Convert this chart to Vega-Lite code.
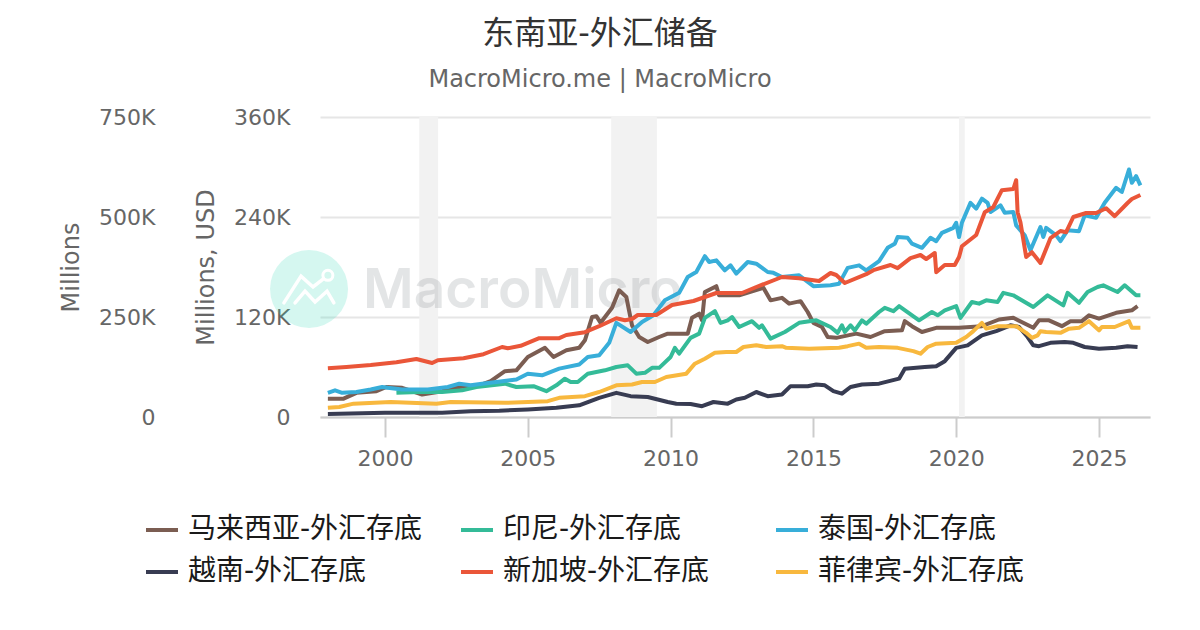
{
  "$schema": "https://vega.github.io/schema/vega-lite/v6.json",
  "autosize": {"type": "none"},
  "padding": {"left": 320, "top": 117, "right": 50, "bottom": 213},
  "width": 830,
  "height": 300,
  "background": "white",
  "title": {
    "text": "东南亚-外汇储备",
    "subtitle": "MacroMicro.me | MacroMicro",
    "anchor": "middle",
    "dx": -135,
    "offset": 13,
    "fontSize": 32,
    "fontWeight": "normal",
    "color": "#333333",
    "subtitleFontSize": 24,
    "subtitleColor": "#666666",
    "subtitlePadding": 17,
    "font": "DejaVu Sans, Noto Sans CJK SC",
    "subtitleFont": "DejaVu Sans"
  },
  "config": {
    "view": {"stroke": null},
    "font": "DejaVu Sans, Noto Sans CJK SC"
  },
  "datasets": {
    "bands": [
      {"from": 2001.2, "to": 2001.86},
      {"from": 2007.92, "to": 2009.52},
      {"from": 2020.1, "to": 2020.3}
    ],
    "logo": [{"t": 1997.34, "v": 153600}],
    "ring": [{"t": 1998.0, "v": 170000}],
    "markA": [
      {"t": 1996.46, "v": 137000},
      {"t": 1997.06, "v": 169000},
      {"t": 1997.48, "v": 156000},
      {"t": 1998.0, "v": 170000}
    ],
    "markB": [
      {"t": 1996.85, "v": 137000},
      {"t": 1997.2, "v": 151000},
      {"t": 1997.55, "v": 138000},
      {"t": 1997.97, "v": 151000},
      {"t": 1998.21, "v": 137000}
    ],
    "wordmark": [{"t": 1999.23, "v": 131000, "name": "MacroMicro"}],
    "my": [
      {"t":1998.0,"v":22000},{"t":1998.55,"v":22000},{"t":1999.0,"v":29000},{"t":1999.7,"v":31000},{"t":2000.05,"v":36000},{"t":2000.6,"v":35000},{"t":2001.3,"v":27000},{"t":2002.0,"v":31000},{"t":2002.6,"v":36000},{"t":2003.3,"v":38000},{"t":2003.7,"v":43000},{"t":2004.2,"v":55000},{"t":2004.6,"v":56000},{"t":2005.0,"v":72000},{"t":2005.6,"v":83000},{"t":2005.9,"v":72000},{"t":2006.35,"v":80000},{"t":2006.8,"v":83000},{"t":2007.0,"v":92000},{"t":2007.25,"v":120000},{"t":2007.4,"v":121000},{"t":2007.55,"v":113000},{"t":2007.95,"v":131000},{"t":2008.2,"v":152000},{"t":2008.45,"v":144000},{"t":2008.65,"v":110000},{"t":2008.9,"v":96000},{"t":2009.2,"v":90000},{"t":2009.6,"v":96000},{"t":2009.9,"v":100000},{"t":2010.6,"v":100000},{"t":2010.75,"v":119000},{"t":2011.0,"v":124000},{"t":2011.1,"v":116000},{"t":2011.2,"v":150000},{"t":2011.6,"v":157000},{"t":2011.7,"v":146000},{"t":2012.4,"v":146000},{"t":2013.25,"v":155000},{"t":2013.5,"v":140000},{"t":2013.9,"v":143000},{"t":2014.15,"v":136000},{"t":2014.55,"v":139000},{"t":2014.8,"v":126000},{"t":2015.0,"v":113000},{"t":2015.3,"v":108000},{"t":2015.5,"v":96000},{"t":2015.8,"v":95000},{"t":2016.5,"v":100000},{"t":2017.0,"v":96000},{"t":2017.5,"v":103000},{"t":2018.1,"v":104000},{"t":2018.2,"v":115000},{"t":2018.45,"v":109000},{"t":2018.8,"v":102000},{"t":2019.3,"v":107000},{"t":2020.1,"v":107000},{"t":2020.9,"v":109000},{"t":2021.5,"v":117000},{"t":2022.0,"v":119000},{"t":2022.7,"v":107000},{"t":2022.9,"v":116000},{"t":2023.25,"v":116000},{"t":2023.7,"v":109000},{"t":2024.0,"v":115000},{"t":2024.4,"v":115000},{"t":2024.65,"v":122000},{"t":2025.0,"v":118000},{"t":2025.6,"v":125000},{"t":2026.15,"v":128000},{"t":2026.35,"v":133000}
    ],
    "id": [
      {"t":2000.4,"v":29000},{"t":2001.2,"v":30000},{"t":2002.0,"v":30000},{"t":2002.7,"v":32000},{"t":2003.2,"v":36000},{"t":2004.2,"v":40000},{"t":2004.6,"v":36000},{"t":2005.2,"v":37000},{"t":2005.65,"v":31000},{"t":2006.0,"v":38000},{"t":2006.3,"v":46000},{"t":2006.5,"v":42000},{"t":2006.75,"v":42000},{"t":2007.1,"v":52000},{"t":2007.7,"v":56000},{"t":2008.1,"v":60000},{"t":2008.5,"v":62000},{"t":2008.8,"v":52000},{"t":2009.1,"v":53000},{"t":2009.35,"v":59000},{"t":2009.6,"v":59000},{"t":2010.0,"v":72000},{"t":2010.15,"v":83000},{"t":2010.3,"v":76000},{"t":2010.7,"v":95000},{"t":2011.0,"v":100000},{"t":2011.2,"v":119000},{"t":2011.55,"v":127000},{"t":2011.75,"v":113000},{"t":2012.0,"v":116000},{"t":2012.15,"v":120000},{"t":2012.4,"v":108000},{"t":2012.85,"v":115000},{"t":2013.1,"v":107000},{"t":2013.2,"v":110000},{"t":2013.5,"v":94000},{"t":2014.0,"v":102000},{"t":2014.5,"v":113000},{"t":2015.1,"v":116000},{"t":2015.6,"v":108000},{"t":2015.85,"v":101000},{"t":2016.0,"v":110000},{"t":2016.1,"v":102000},{"t":2016.3,"v":110000},{"t":2016.45,"v":104000},{"t":2016.7,"v":116000},{"t":2016.85,"v":112000},{"t":2017.3,"v":126000},{"t":2017.5,"v":131000},{"t":2017.8,"v":127000},{"t":2018.0,"v":133000},{"t":2018.7,"v":116000},{"t":2019.15,"v":126000},{"t":2019.35,"v":122000},{"t":2019.6,"v":128000},{"t":2020.0,"v":133000},{"t":2020.15,"v":119000},{"t":2020.55,"v":138000},{"t":2020.8,"v":136000},{"t":2021.05,"v":140000},{"t":2021.45,"v":138000},{"t":2021.65,"v":149000},{"t":2022.0,"v":146000},{"t":2022.7,"v":132000},{"t":2023.2,"v":146000},{"t":2023.75,"v":134000},{"t":2023.9,"v":149000},{"t":2024.3,"v":137000},{"t":2024.6,"v":150000},{"t":2024.95,"v":156000},{"t":2025.15,"v":158000},{"t":2025.65,"v":150000},{"t":2025.9,"v":158000},{"t":2026.3,"v":146000},{"t":2026.45,"v":146000}
    ],
    "th": [
      {"t":1998.0,"v":29000},{"t":1998.25,"v":32000},{"t":1998.5,"v":29000},{"t":1999.0,"v":30000},{"t":1999.5,"v":33000},{"t":1999.9,"v":36000},{"t":2000.1,"v":35000},{"t":2000.6,"v":33000},{"t":2001.5,"v":33000},{"t":2002.2,"v":36000},{"t":2002.6,"v":40000},{"t":2003.0,"v":38000},{"t":2003.4,"v":40000},{"t":2003.9,"v":42000},{"t":2004.6,"v":45000},{"t":2005.0,"v":52000},{"t":2005.5,"v":50000},{"t":2006.1,"v":58000},{"t":2006.8,"v":63000},{"t":2007.1,"v":72000},{"t":2007.5,"v":74000},{"t":2007.85,"v":89000},{"t":2008.1,"v":113000},{"t":2008.6,"v":102000},{"t":2009.0,"v":114000},{"t":2009.4,"v":122000},{"t":2009.8,"v":140000},{"t":2010.3,"v":149000},{"t":2010.6,"v":168000},{"t":2010.9,"v":174000},{"t":2011.2,"v":193000},{"t":2011.35,"v":186000},{"t":2011.6,"v":188000},{"t":2011.9,"v":176000},{"t":2012.1,"v":182000},{"t":2012.3,"v":172000},{"t":2012.7,"v":186000},{"t":2013.0,"v":184000},{"t":2013.4,"v":174000},{"t":2013.6,"v":173000},{"t":2013.9,"v":168000},{"t":2014.5,"v":170000},{"t":2015.0,"v":157000},{"t":2015.6,"v":158000},{"t":2015.9,"v":160000},{"t":2016.2,"v":179000},{"t":2016.6,"v":182000},{"t":2016.85,"v":176000},{"t":2017.3,"v":187000},{"t":2017.6,"v":203000},{"t":2017.85,"v":208000},{"t":2017.95,"v":216000},{"t":2018.3,"v":215000},{"t":2018.45,"v":208000},{"t":2018.8,"v":203000},{"t":2019.1,"v":215000},{"t":2019.3,"v":211000},{"t":2019.5,"v":221000},{"t":2019.9,"v":227000},{"t":2020.0,"v":233000},{"t":2020.1,"v":216000},{"t":2020.2,"v":233000},{"t":2020.5,"v":257000},{"t":2020.7,"v":250000},{"t":2020.9,"v":262000},{"t":2021.1,"v":257000},{"t":2021.2,"v":246000},{"t":2021.55,"v":254000},{"t":2021.7,"v":245000},{"t":2022.0,"v":246000},{"t":2022.1,"v":230000},{"t":2022.4,"v":218000},{"t":2022.6,"v":200000},{"t":2022.95,"v":228000},{"t":2023.05,"v":216000},{"t":2023.15,"v":227000},{"t":2023.5,"v":218000},{"t":2023.65,"v":211000},{"t":2023.9,"v":224000},{"t":2024.3,"v":223000},{"t":2024.5,"v":242000},{"t":2024.9,"v":239000},{"t":2025.2,"v":257000},{"t":2025.6,"v":275000},{"t":2025.8,"v":270000},{"t":2026.05,"v":297000},{"t":2026.15,"v":281000},{"t":2026.3,"v":289000},{"t":2026.45,"v":278000}
    ],
    "vn": [
      {"t":1998.0,"v":3500},{"t":2000.0,"v":5000},{"t":2002.0,"v":5000},{"t":2003.0,"v":7000},{"t":2004.0,"v":7500},{"t":2005.0,"v":9000},{"t":2006.0,"v":11000},{"t":2006.8,"v":14000},{"t":2007.5,"v":23000},{"t":2008.1,"v":29000},{"t":2008.6,"v":25000},{"t":2009.2,"v":24000},{"t":2009.9,"v":18000},{"t":2010.2,"v":16000},{"t":2010.7,"v":15600},{"t":2011.1,"v":13000},{"t":2011.5,"v":18000},{"t":2012.0,"v":16000},{"t":2012.3,"v":21000},{"t":2012.6,"v":23000},{"t":2013.0,"v":30000},{"t":2013.4,"v":25000},{"t":2013.9,"v":27000},{"t":2014.2,"v":37000},{"t":2014.8,"v":37000},{"t":2015.1,"v":39000},{"t":2015.4,"v":38000},{"t":2015.7,"v":31000},{"t":2016.0,"v":28000},{"t":2016.3,"v":36000},{"t":2016.7,"v":39000},{"t":2017.3,"v":40000},{"t":2018.0,"v":46000},{"t":2018.2,"v":58000},{"t":2018.9,"v":60000},{"t":2019.3,"v":61000},{"t":2019.6,"v":67000},{"t":2020.0,"v":83000},{"t":2020.4,"v":86000},{"t":2020.9,"v":98000},{"t":2021.4,"v":103000},{"t":2021.9,"v":110000},{"t":2022.2,"v":108000},{"t":2022.5,"v":96000},{"t":2022.7,"v":86000},{"t":2022.9,"v":85000},{"t":2023.3,"v":89000},{"t":2023.8,"v":90000},{"t":2024.1,"v":89000},{"t":2024.5,"v":84000},{"t":2025.0,"v":82000},{"t":2025.6,"v":83000},{"t":2026.0,"v":85000},{"t":2026.35,"v":84000}
    ],
    "sg": [
      {"t":1998.0,"v":122000},{"t":1998.65,"v":125000},{"t":1999.5,"v":130000},{"t":2000.4,"v":137000},{"t":2001.1,"v":145000},{"t":2001.65,"v":135000},{"t":2001.85,"v":142000},{"t":2002.75,"v":147000},{"t":2003.45,"v":157000},{"t":2004.1,"v":175000},{"t":2004.3,"v":172000},{"t":2004.75,"v":178000},{"t":2005.4,"v":197000},{"t":2006.1,"v":197000},{"t":2006.35,"v":205000},{"t":2007.0,"v":212000},{"t":2007.5,"v":227000},{"t":2008.1,"v":247000},{"t":2008.4,"v":242000},{"t":2008.65,"v":245000},{"t":2008.85,"v":255000},{"t":2009.5,"v":255000},{"t":2010.05,"v":280000},{"t":2010.8,"v":290000},{"t":2011.6,"v":310000},{"t":2012.5,"v":310000},{"t":2013.0,"v":325000},{"t":2013.9,"v":350000},{"t":2014.5,"v":347000},{"t":2015.2,"v":340000},{"t":2015.6,"v":360000},{"t":2015.8,"v":355000},{"t":2016.1,"v":335000},{"t":2016.85,"v":357000},{"t":2017.1,"v":367000},{"t":2017.7,"v":380000},{"t":2017.95,"v":372000},{"t":2018.4,"v":397000},{"t":2018.75,"v":405000},{"t":2018.95,"v":395000},{"t":2019.25,"v":410000},{"t":2019.3,"v":362000},{"t":2019.6,"v":380000},{"t":2019.95,"v":380000},{"t":2020.1,"v":400000},{"t":2020.2,"v":427000},{"t":2020.7,"v":455000},{"t":2021.0,"v":512000},{"t":2021.3,"v":525000},{"t":2021.6,"v":567000},{"t":2022.0,"v":570000},{"t":2022.1,"v":592000},{"t":2022.15,"v":512000},{"t":2022.25,"v":487000},{"t":2022.45,"v":400000},{"t":2022.65,"v":412000},{"t":2022.95,"v":385000},{"t":2023.3,"v":447000},{"t":2023.65,"v":465000},{"t":2023.85,"v":462000},{"t":2024.1,"v":500000},{"t":2024.55,"v":510000},{"t":2024.9,"v":510000},{"t":2025.25,"v":522000},{"t":2025.55,"v":502000},{"t":2026.0,"v":535000},{"t":2026.15,"v":545000},{"t":2026.45,"v":555000}
    ],
    "ph": [
      {"t":1998.0,"v":11000},{"t":1998.4,"v":12000},{"t":1998.9,"v":16000},{"t":2000.2,"v":18000},{"t":2001.8,"v":16000},{"t":2002.3,"v":18000},{"t":2004.2,"v":17000},{"t":2005.7,"v":19000},{"t":2006.1,"v":23000},{"t":2007.0,"v":25000},{"t":2007.5,"v":30000},{"t":2008.1,"v":38000},{"t":2008.65,"v":39000},{"t":2009.0,"v":42000},{"t":2009.45,"v":42000},{"t":2009.85,"v":48000},{"t":2010.55,"v":52000},{"t":2010.85,"v":64000},{"t":2011.2,"v":70000},{"t":2011.55,"v":77000},{"t":2011.95,"v":78000},{"t":2012.3,"v":78000},{"t":2012.55,"v":84000},{"t":2013.0,"v":86000},{"t":2013.35,"v":84000},{"t":2013.9,"v":85000},{"t":2014.05,"v":83000},{"t":2014.85,"v":82000},{"t":2015.9,"v":83000},{"t":2016.2,"v":85000},{"t":2016.6,"v":88000},{"t":2016.85,"v":83000},{"t":2017.3,"v":84000},{"t":2017.95,"v":83000},{"t":2018.5,"v":79000},{"t":2018.75,"v":76000},{"t":2019.0,"v":84000},{"t":2019.3,"v":88000},{"t":2020.0,"v":89000},{"t":2020.35,"v":96000},{"t":2020.6,"v":103000},{"t":2020.9,"v":113000},{"t":2021.05,"v":106000},{"t":2021.45,"v":109000},{"t":2022.1,"v":109000},{"t":2022.45,"v":101000},{"t":2022.65,"v":95000},{"t":2022.85,"v":98000},{"t":2022.95,"v":103000},{"t":2023.15,"v":102000},{"t":2023.65,"v":101000},{"t":2023.95,"v":106000},{"t":2024.3,"v":107000},{"t":2024.65,"v":115000},{"t":2025.0,"v":104000},{"t":2025.1,"v":108000},{"t":2025.55,"v":108000},{"t":2026.05,"v":115000},{"t":2026.15,"v":107000},{"t":2026.45,"v":107000}
    ]
  },
  "encoding": {
    "x": {
      "field": "t",
      "type": "quantitative",
      "title": null,
      "scale": {"domain": [1997.724, 2026.786], "nice": false, "zero": false},
      "axis": {
        "values": [2000, 2005, 2010, 2015, 2020, 2025],
        "format": "d",
        "grid": false,
        "domainColor": "#cccccc",
        "domainWidth": 2,
        "tickColor": "#cccccc",
        "tickWidth": 2,
        "tickSize": 20,
        "labelFontSize": 22,
        "labelColor": "#666666",
        "labelPadding": 11,
        "labelFont": "DejaVu Sans"
      }
    }
  },
  "layer": [
    {
      "encoding": {
        "y": {
          "field": "v",
          "type": "quantitative",
          "title": "Millions, USD",
          "scale": {"domain": [0, 360000], "nice": false},
          "axis": {
            "orient": "left",
            "offset": 25,
            "values": [0, 120000, 240000, 360000],
            "labelExpr": "datum.value ? datum.value / 1000 + 'K' : '0'",
            "grid": true,
            "gridColor": "#e6e6e6",
            "gridWidth": 2,
            "domain": false,
            "ticks": false,
            "labelPadding": 5,
            "labelFontSize": 22,
            "labelColor": "#666666",
            "labelFont": "DejaVu Sans",
            "titleFontSize": 24,
            "titleFontWeight": "normal",
            "titleColor": "#666666",
            "titleFont": "DejaVu Sans",
            "titlePadding": 15
          }
        }
      },
      "layer": [
        {
          "data": {"name": "bands"},
          "mark": {"type": "rect", "color": "#f2f2f2"},
          "encoding": {
            "x": {"field": "from", "type": "quantitative"},
            "x2": {"field": "to"},
            "y": null
          }
        },
        {
          "data": {"name": "logo"},
          "mark": {"type": "point", "filled": true, "shape": "circle", "size": 6084, "color": "#2ed9b2", "opacity": 0.2, "clip": false}
        },
        {
          "data": {"name": "markA"},
          "mark": {"type": "line", "color": "white", "strokeWidth": 3.5, "strokeCap": "round"}
        },
        {
          "data": {"name": "markB"},
          "mark": {"type": "line", "color": "white", "strokeWidth": 3.5, "strokeCap": "round"}
        },
        {
          "data": {"name": "ring"},
          "mark": {"type": "point", "filled": true, "shape": "circle", "size": 100, "fill": "#d5f7ef", "stroke": "white", "strokeWidth": 3, "opacity": 1}
        },
        {
          "data": {"name": "wordmark"},
          "mark": {"type": "text", "align": "left", "baseline": "alphabetic", "font": "Inter", "fontWeight": 600, "fontSize": 55, "color": "#7a7f85", "opacity": 0.2},
          "encoding": {"text": {"field": "name"}}
        },
        {
          "data": {"name": "my"},
          "mark": {"type": "line", "strokeWidth": 4, "strokeJoin": "round"},
          "encoding": {
            "color": {
              "datum": "马来西亚-外汇存底",
              "scale": {
                "domain": ["马来西亚-外汇存底", "越南-外汇存底", "印尼-外汇存底", "新加坡-外汇存底", "泰国-外汇存底", "菲律宾-外汇存底"],
                "range": ["#7b5d52", "#383c52", "#34bb98", "#ea5639", "#38aed9", "#f8b83e"]
              },
              "legend": {
                "title": null,
                "orient": "none",
                "legendX": -176,
                "legendY": 395,
                "columns": 3,
                "gridAlign": "all",
                "columnPadding": 30,
                "rowPadding": 10,
                "symbolType": "stroke",
                "symbolSize": 1024,
                "symbolStrokeWidth": 4,
                "labelOffset": 8,
                "labelFontSize": 28,
                "labelColor": "#1a1a1a",
                "labelFont": "DejaVu Sans, Noto Sans CJK SC",
                "labelLimit": 400
              }
            }
          }
        },
        {
          "data": {"name": "id"},
          "mark": {"type": "line", "strokeWidth": 4, "strokeJoin": "round"},
          "encoding": {"color": {"datum": "印尼-外汇存底"}}
        },
        {
          "data": {"name": "th"},
          "mark": {"type": "line", "strokeWidth": 4, "strokeJoin": "round"},
          "encoding": {"color": {"datum": "泰国-外汇存底"}}
        },
        {
          "data": {"name": "vn"},
          "mark": {"type": "line", "strokeWidth": 4, "strokeJoin": "round"},
          "encoding": {"color": {"datum": "越南-外汇存底"}}
        },
        {
          "data": {"name": "ph"},
          "mark": {"type": "line", "strokeWidth": 4, "strokeJoin": "round"},
          "encoding": {"color": {"datum": "菲律宾-外汇存底"}}
        }
      ]
    },
    {
      "data": {"name": "sg"},
      "mark": {"type": "line", "strokeWidth": 4, "strokeJoin": "round"},
      "encoding": {
        "color": {"datum": "新加坡-外汇存底"},
        "y": {
          "field": "v",
          "type": "quantitative",
          "title": "Millions",
          "scale": {"domain": [0, 750000], "nice": false},
          "axis": {
            "orient": "left",
            "offset": 160,
            "values": [0, 250000, 500000, 750000],
            "labelExpr": "datum.value ? datum.value / 1000 + 'K' : '0'",
            "grid": false,
            "domain": false,
            "ticks": false,
            "labelPadding": 5,
            "labelFontSize": 22,
            "labelColor": "#666666",
            "labelFont": "DejaVu Sans",
            "titleFontSize": 24,
            "titleFontWeight": "normal",
            "titleColor": "#666666",
            "titleFont": "DejaVu Sans",
            "titlePadding": 15
          }
        }
      }
    }
  ],
  "resolve": {"scale": {"y": "independent"}, "axis": {"y": "independent"}}
}
